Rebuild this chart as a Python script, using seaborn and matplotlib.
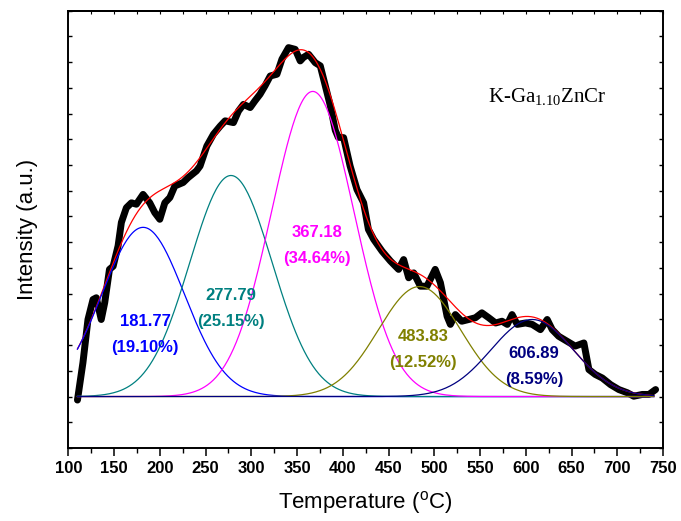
import numpy as np
import pandas as pd
import matplotlib
matplotlib.use("Agg")
import matplotlib.pyplot as plt
from matplotlib.ticker import MultipleLocator
import seaborn as sns

temperature = [110, 116, 121.5, 127, 130.6, 136, 139.8, 145, 149, 154.4, 158, 163.5, 169, 174.4,
               181.7, 189, 194.5, 200, 205.5, 211, 216.4, 225.5, 231, 240, 244, 251.4, 258.7, 266,
               271.4, 280.5, 286, 291.5, 298.8, 304, 309.6, 315, 320.7, 328, 333.5, 340.7, 348,
               353.5, 357, 362.6, 369.9, 375.4, 380.9, 386.4, 391.8, 395, 400.9, 408, 415.5, 422.8,
               428, 433.7, 442.9, 452, 461, 466.5, 472, 477.5, 484.8, 492, 501, 506.7, 514, 517.6,
               523, 530, 537.7, 545, 552, 559.5, 567, 574, 579.8, 585, 590.6, 599.7, 607, 616,
               623.4, 628.9, 636, 645, 654, 663.5, 669, 676, 683.6, 692.7, 701.7, 710.9, 718,
               727.3, 734.6, 741.9]
intensity = [-0.01, 0.097, 0.22, 0.277, 0.282, 0.22, 0.268, 0.363, 0.372, 0.43, 0.497, 0.539,
             0.553, 0.549, 0.577, 0.553, 0.525, 0.506, 0.553, 0.568, 0.601, 0.611, 0.625, 0.644,
             0.658, 0.715, 0.749, 0.772, 0.787, 0.782, 0.815, 0.834, 0.825, 0.844, 0.863, 0.887,
             0.915, 0.92, 0.963, 0.996, 0.991, 0.958, 0.968, 0.977, 0.953, 0.944, 0.887, 0.83,
             0.76, 0.74, 0.739, 0.658, 0.591, 0.553, 0.477, 0.449, 0.415, 0.387, 0.363, 0.391,
             0.339, 0.353, 0.315, 0.315, 0.363, 0.325, 0.229, 0.206, 0.234, 0.215, 0.22, 0.225,
             0.239, 0.225, 0.21, 0.215, 0.206, 0.234, 0.206, 0.21, 0.206, 0.191, 0.22, 0.191,
             0.172, 0.158, 0.144, 0.153, 0.077, 0.063, 0.053, 0.034, 0.02, 0.011, 0.001, 0.006,
             0.006, 0.02]

# ---- Gaussian deconvolution peaks ----
peak_centers = [181.77, 277.79, 367.18, 483.83, 606.89]
peak_heights = [0.483, 0.631, 0.871, 0.314, 0.220]
peak_width = 45.0
peak_percent = ["19.10%", "25.15%", "34.64%", "12.52%", "8.59%"]
peak_colors = ["#0000FF", "#008080", "#FF00FF", "#808000", "#000080"]
label_pos = [(184, 0.177), (278, 0.251), (372, 0.431), (488, 0.134), (609, 0.086)]

fit_T = np.linspace(110, 740, 400)

fig = plt.figure(figsize=(6.81, 5.21), dpi=100)
ax = fig.add_axes([0.1003, 0.1401, 0.9736 - 0.1003, 0.9795 - 0.1401])

df = pd.DataFrame({"T": temperature, "I": intensity})
sns.lineplot(data=df, x="T", y="I", ax=ax, color="black", lw=5, sort=False,
             solid_joinstyle="round", solid_capstyle="round", zorder=2)

total = np.zeros_like(fit_T)
comps = []
for mu, h, c in zip(peak_centers, peak_heights, peak_colors):
    g = h * np.exp(-(fit_T - mu) ** 2 / (2 * peak_width ** 2))
    total += g
    comps.append((g, c))
sns.lineplot(x=fit_T, y=total, ax=ax, color="#FF0000", lw=0.9, zorder=3)
for g, c in comps:
    sns.lineplot(x=fit_T, y=g, ax=ax, color=c, lw=0.9, zorder=4)

for mu, pct, c, (lx, ly) in zip(peak_centers, peak_percent, peak_colors, label_pos):
    ax.text(lx, ly, f"{mu:.2f}\n({pct})", color=c, fontsize=12, fontweight="bold",
            family="Liberation Sans", ha="center", va="center", linespacing=1.88, zorder=5)

ax.text(559, 0.84, r"K-Ga$_{\mathregular{1.10}}$ZnCr", fontsize=15,
        family="Liberation Serif", ha="left", va="baseline")

d = 25.7 / 350.0
ax.set_xlim(100, 750)
ax.set_ylim(-2 * d, 15 * d)
ax.xaxis.set_major_locator(MultipleLocator(50))
ax.xaxis.set_minor_locator(MultipleLocator(25))
ax.yaxis.set_major_locator(MultipleLocator(d))
ax.tick_params(axis="x", which="major", direction="out", length=6, width=1.1,
               labelsize=12, pad=3, top=False)
ax.tick_params(axis="x", which="minor", direction="out", length=3.5, width=1.0, top=False)
ax.tick_params(axis="y", which="major", direction="in", length=3, width=1.0,
               left=True, right=True, labelleft=False)
for lab in ax.get_xticklabels():
    lab.set_fontweight("bold")
    lab.set_family("Liberation Sans")

# small ticks on the top spine
top = ax.secondary_xaxis("top")
top.xaxis.set_major_locator(MultipleLocator(25))
top.tick_params(direction="in", length=2, width=0.8, labeltop=False)
top.spines["top"].set_linewidth(1.4)

for s in ax.spines.values():
    s.set_linewidth(1.4)

ax.set_xlabel(r"Temperature ($^{\mathregular{o}}$C)", fontsize=16, family="Liberation Sans",
              labelpad=10)
ax.set_ylabel("Intensity (a.u.)", fontsize=16, family="Liberation Sans", labelpad=22)

fig.savefig("out.png", dpi=100)
